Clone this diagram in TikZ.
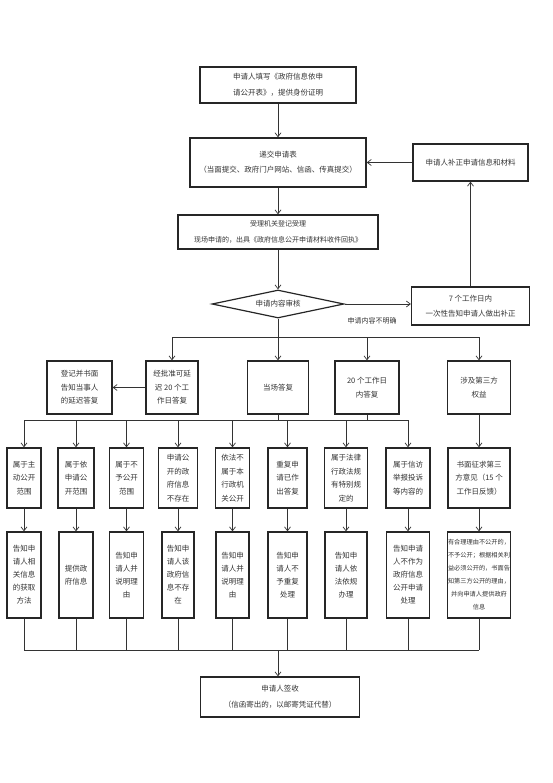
\documentclass[tikz,border=0pt]{standalone}
\usepackage{fontspec}
\setmainfont{Noto Sans CJK SC}
\usetikzlibrary{arrows.meta,shapes.geometric}
\begin{document}
\begin{tikzpicture}[x=1pt,y=-1pt,
 box/.style={draw=black!85, line width=1.2pt, align=center, inner sep=0pt, text=black!80, font=\fontsize{7.5}{13}\selectfont},
 rtwo/.style={box, minimum height=60pt, font=\fontsize{7.5}{13.5}\selectfont},
 rthree/.style={box, minimum height=86pt, font=\fontsize{7.5}{13}\selectfont},
 rone/.style={box, minimum height=53pt, font=\fontsize{7.5}{13.5}\selectfont},
 arr/.style={draw=black!80, line width=0.7pt, -{Straight Barb[length=4pt,width=6pt]}},
 ln/.style={draw=black!80, line width=0.7pt}]
\useasboundingbox (0,0) rectangle (553,783);

% top part
\node[box, minimum width=156pt, minimum height=36pt, align=left, font=\fontsize{7.5}{16}\selectfont] (fill) at (278,85) {申请人填写《政府信息依申\\请公开表》，提供身份证明};
\node[box, minimum width=176pt, minimum height=49pt, line width=1.4pt, font=\fontsize{7.5}{15}\selectfont] (submit) at (278,162.5) {递交申请表\\（当面提交、政府门户网站、信函、传真提交）};
\node[box, minimum width=115pt, minimum height=37pt] (supp) at (470.5,162.5) {申请人补正申请信息和材料};
\node[box, minimum width=200pt, minimum height=34pt, font=\fontsize{7}{16}\selectfont] (accept) at (278,232) {受理机关登记受理\\现场申请的，出具《政府信息公开申请材料收件回执》};
\node[draw=black!85, line width=1.2pt, diamond, shape aspect=4.7, minimum width=132pt, minimum height=28pt, inner sep=0pt, text=black!80, font=\fontsize{7.5}{9}\selectfont] (check) at (278,304) {申请内容审核};
\node[box, minimum width=118pt, minimum height=38pt, font=\fontsize{7.5}{15}\selectfont] (seven) at (470.5,306) {7 个工作日内\\一次性告知申请人做出补正};
\node[text=black!80, font=\fontsize{7}{8}\selectfont, inner sep=0pt] (unclear) at (372,321) {申请内容不明确};

\draw[arr] (fill) -- (submit);
\draw[arr] (submit) -- (accept);
\draw[arr] (accept) -- (check);
\draw[arr] (check) -- (check -| seven.west);
\draw[arr] (seven) -- (supp);
\draw[arr] (supp) -- (submit);

% row 1
\node[rone, minimum width=65pt] (r1a) at (79.5,387.5) {登记并书面\\告知当事人\\的延迟答复};
\node[rone, minimum width=52pt] (r1b) at (172,387.5) {经批准可延\\迟 20 个工\\作日答复};
\node[rone, minimum width=61pt] (r1c) at (278,387.5) {当场答复};
\node[rone, minimum width=64pt] (r1d) at (367,387.5) {20 个工作日\\内答复};
\node[rone, minimum width=63pt] (r1e) at (479,387.5) {涉及第三方\\权益};

\coordinate (j1) at (278,337);
\coordinate (h1L) at (172,337);
\coordinate (h1R) at (479,337);
\draw[ln] (check.south) -- (j1);
\draw[ln] (h1L) -- (h1R);
\foreach \n in {r1b,r1c,r1d,r1e} \draw[arr] (\n.north |- j1) -- (\n.north);
\draw[arr] (r1b) -- (r1a);

% row 2
\node[rtwo, minimum width=34pt] (r2a) at (24,478) {属于主\\动公开\\范围};
\node[rtwo, minimum width=36pt] (r2b) at (76,478) {属于依\\申请公\\开范围};
\node[rtwo, minimum width=34pt] (r2c) at (126.5,478) {属于不\\予公开\\范围};
\node[rtwo, minimum width=39pt] (r2d) at (178,478) {申请公\\开的政\\府信息\\不存在};
\node[rtwo, minimum width=34pt] (r2e) at (232.5,478) {依法不\\属于本\\行政机\\关公开};
\node[rtwo, minimum width=39pt] (r2f) at (287.5,478) {重复申\\请已作\\出答复};
\node[rtwo, minimum width=43pt] (r2g) at (346,478) {属于法律\\行政法规\\有特别规\\定的};
\node[rtwo, minimum width=44pt] (r2h) at (408,478) {属于信访\\举报投诉\\等内容的};
\node[rtwo, minimum width=62pt] (r2i) at (479,478) {书面征求第三\\方意见（15 个\\工作日反馈）};

\coordinate (h2L) at (24,420);
\coordinate (h2R) at (408,420);
\draw[ln] (h2L) -- (h2R);
\draw[ln] (r1c.south) -- (r1c.south |- h2L);
\draw[ln] (r1d.south) -- (r1d.south |- h2L);
\foreach \n in {r2a,r2b,r2c,r2d,r2e,r2f,r2g,r2h} \draw[arr] (\n.north |- h2L) -- (\n.north);
\draw[arr] (r1e) -- (r2i);

% row 3
\node[rthree, minimum width=34pt] (r3a) at (24,575) {告知申\\请人相\\关信息\\的获取\\方法};
\node[rthree, minimum width=34pt] (r3b) at (76,575) {提供政\\府信息};
\node[rthree, minimum width=34pt] (r3c) at (126.5,575) {告知申\\请人并\\说明理\\由};
\node[rthree, minimum width=32pt] (r3d) at (178,575) {告知申\\请人该\\政府信\\息不存\\在};
\node[rthree, minimum width=33pt] (r3e) at (232.5,575) {告知申\\请人并\\说明理\\由};
\node[rthree, minimum width=39pt] (r3f) at (287.5,575) {告知申\\请人不\\予重复\\处理};
\node[rthree, minimum width=42pt] (r3g) at (346,575) {告知申\\请人依\\法依规\\办理};
\node[rthree, minimum width=43pt] (r3h) at (408,575) {告知申请\\人不作为\\政府信息\\公开申请\\处理};
\node[rthree, minimum width=63pt, font=\fontsize{6.2}{13}\selectfont] (r3i) at (479,575) {有合理理由不公开的，\\不予公开；根据相关利\\益必须公开的，书面告\\知第三方公开的理由，\\并向申请人提供政府\\信息};

\foreach \a/\b in {r2a/r3a,r2b/r3b,r2c/r3c,r2d/r3d,r2e/r3e,r2f/r3f,r2g/r3g,r2h/r3h,r2i/r3i} \draw[arr] (\a) -- (\b);

% bottom
\node[box, minimum width=159pt, minimum height=40pt, font=\fontsize{7.5}{16}\selectfont] (sign) at (280,697) {申请人签收\\（信函寄出的，以邮寄凭证代替）};
\coordinate (h3L) at (24,650);
\coordinate (h3R) at (479,650);
\coordinate (j3) at (278,650);
\draw[ln] (h3L) -- (h3R);
\foreach \n in {r3a,r3b,r3c,r3d,r3e,r3f,r3g,r3h,r3i} \draw[ln] (\n.south) -- (\n.south |- h3L);
\draw[arr] (j3) -- (j3 |- sign.north);
\end{tikzpicture}
\end{document}
